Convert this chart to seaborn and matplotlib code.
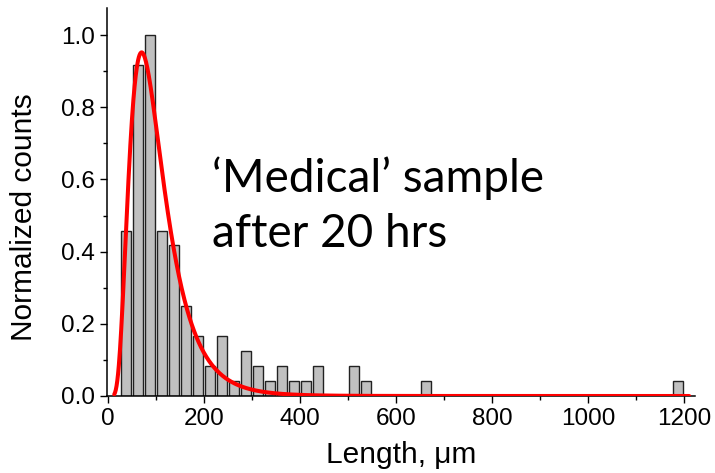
import numpy as np
import pandas as pd
import matplotlib
matplotlib.use("Agg")
import matplotlib.pyplot as plt
import seaborn as sns
from matplotlib.ticker import MultipleLocator

# ---- data ----
bin_centers = [37.5, 62.5, 87.5, 112.5, 137.5, 162.5, 187.5, 212.5, 237.5, 262.5,
               287.5, 312.5, 337.5, 362.5, 387.5, 412.5, 437.5, 512.5, 537.5, 662.5, 1187.5]
norm_counts = [0.458, 0.917, 1.0, 0.458, 0.417, 0.25, 0.167, 0.083, 0.167, 0.042,
               0.125, 0.083, 0.042, 0.083, 0.042, 0.042, 0.083, 0.083, 0.042, 0.042, 0.042]
bin_width = 25
bin_start, bin_stop = 25, 1200

# log-normal fit curve parameters
fit_mode = 70.0      # peak position, um
fit_sigma = 0.515    # log-width
fit_peak = 0.952     # peak height
fit_xmin, fit_xmax = 13, 1210

x_ticks = [0, 200, 400, 600, 800, 1000, 1200]
y_ticks = [0.0, 0.2, 0.4, 0.6, 0.8, 1.0]
annotation = "\u2018Medical\u2019 sample\nafter 20 hrs"

# ---- plotting ----
sns.set_style("ticks")
plt.rcParams["font.family"] = ["Liberation Sans", "DejaVu Sans"]
plt.rcParams["axes.labelcolor"] = "black"
plt.rcParams["text.color"] = "black"

fig = plt.figure(figsize=(7.15, 4.73), dpi=100)
ax = fig.add_axes([0.1497, 0.1628, 0.8223, 0.8203])

df = pd.DataFrame({"length": bin_centers, "w": norm_counts})
n_bins = int((bin_stop - bin_start) / bin_width)
sns.histplot(data=df, x="length", weights="w", bins=n_bins, binrange=(bin_start, bin_stop),
             shrink=0.84, color="#c0c0c0", edgecolor="#222222", linewidth=1.0, alpha=1.0, ax=ax)

xf = np.linspace(fit_xmin, fit_xmax, 1500)
yf = fit_peak * np.exp(-np.log(xf / fit_mode) ** 2 / (2 * fit_sigma ** 2))
sns.lineplot(x=xf, y=yf, color="#ff0000", linewidth=2.9, ax=ax, zorder=5)

ax.set_xlim(-2, 1222)
ax.set_ylim(0, 1.075)
ax.set_xticks(x_ticks)
ax.set_yticks(y_ticks)
ax.xaxis.set_minor_locator(MultipleLocator(100))
ax.yaxis.set_minor_locator(MultipleLocator(0.1))
ax.set_yticklabels([f"{v:.1f}" for v in y_ticks])
ax.tick_params(which="major", direction="out", length=5, width=1.0, labelsize=17.5, pad=4,
               color="black", labelcolor="black")
ax.tick_params(which="minor", direction="out", length=3, width=1.0, color="black")
for s in ["top", "right"]:
    ax.spines[s].set_visible(False)
for s in ["left", "bottom"]:
    ax.spines[s].set_color("black")
    ax.spines[s].set_linewidth(1.1)

ax.set_xlabel("Length, \u03bcm", fontsize=21.5, color="black")
ax.set_ylabel("Normalized counts", fontsize=21.5, color="black")
ax.xaxis.set_label_coords(0.501, -0.152)
ax.yaxis.set_label_coords(-0.141, 0.46)
ax.xaxis.label.set_va("center")
ax.yaxis.label.set_va("center")

ax.text(0.178, 0.49, annotation, transform=ax.transAxes, fontsize=33,
        family=["Lato", "DejaVu Sans"], ha="left", va="center", linespacing=1.37,
        color="black")

fig.savefig("out.png", dpi=100)
